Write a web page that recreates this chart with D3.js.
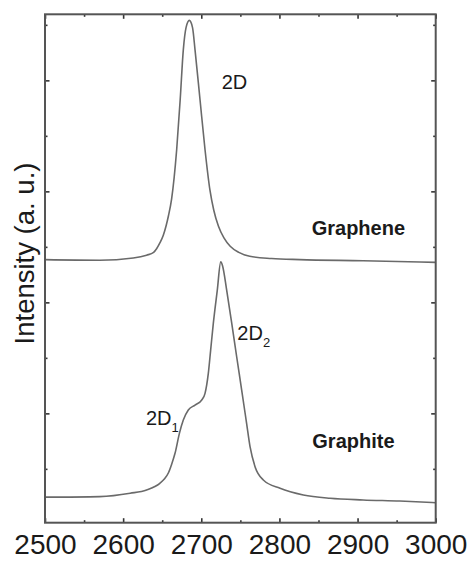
<!doctype html>
<html lang="en">
<head>
    <meta charset="UTF-8">
    <title>Raman 2D band</title>
    <style>
        body { margin: 0; background: #fff; }
        text { font-family: "Liberation Sans", Arial, sans-serif; fill: #1a1a1a; }
    </style>
</head>
<body>
    <svg id="raman" width="471" height="561"></svg>
    <script src="https://d3js.org/d3.v7.min.js"></script>
    <script>
        // graphene spectrum (Raman shift, intensity a.u.)
        let grapheneShift = [2500, 2570, 2613, 2630, 2639, 2643, 2647, 2651.4, 2655, 2658, 2662, 2668.5, 2673, 2677, 2680.5, 2684.7, 2688.8, 2692, 2698.4, 2704.8, 2711, 2716, 2722, 2729, 2737, 2748, 2762, 2790, 2826, 2907, 3000];
        let grapheneValue = [4.77, 4.76, 4.80, 4.85, 4.90, 4.97, 5.07, 5.21, 5.38, 5.56, 5.86, 6.75, 7.65, 8.55, 8.95, 9.08, 8.95, 8.55, 7.65, 6.75, 6.03, 5.66, 5.37, 5.16, 5.01, 4.90, 4.83, 4.79, 4.77, 4.75, 4.72];

        // graphite spectrum
        let graphiteShift = [2500, 2570, 2609, 2630, 2647, 2653, 2658, 2662, 2666.4, 2672, 2677, 2683.4, 2692, 2700.6, 2704.8, 2709, 2712, 2715.4, 2720.5, 2724.9, 2727.2, 2732.5, 2739, 2745.3, 2751.7, 2758, 2762.4, 2768.8, 2779.4, 2800.8, 2830.6, 2864.8, 2907, 2954, 3000];
        let graphiteValue = [0.49, 0.50, 0.56, 0.62, 0.74, 0.82, 0.93, 1.08, 1.28, 1.64, 1.88, 2.06, 2.15, 2.24, 2.36, 2.72, 3.14, 3.62, 4.22, 4.73, 4.66, 4.22, 3.62, 3.02, 2.42, 1.82, 1.40, 1.04, 0.80, 0.65, 0.53, 0.47, 0.44, 0.42, 0.39];

        // axis ticks
        let xMajorTicks = [2500, 2600, 2700, 2800, 2900, 3000];
        let xMinorTicks = [2550, 2650, 2750, 2850, 2950];
        let yMajorTicks = [2, 4, 6, 8];
        let yMinorTicks = [1, 3, 5, 7, 9];

        let margin = {top: 14.3, right: 35.3, bottom: 38.3, left: 45},
            width = 471 - margin.left - margin.right,
            height = 561 - margin.top - margin.bottom;

        let x = d3.scaleLinear().domain([2500, 3000]).range([0, width]);
        let y = d3.scaleLinear().domain([0.03, 9.19]).range([height, 0]);

        let svg = d3.select("#raman")
            .append("g")
            .attr("transform", `translate(${margin.left},${margin.top})`);

        let line = d3.line()
            .x(function(d) { return x(d[0]); })
            .y(function(d) { return y(d[1]); })
            .curve(d3.curveMonotoneX);

        let graphene = d3.zip(grapheneShift, grapheneValue);
        let graphite = d3.zip(graphiteShift, graphiteValue);

        [graphene, graphite].forEach(function(series) {
            svg.append("path")
                .datum(series)
                .attr("d", line)
                .style("fill", "none")
                .attr("stroke", "#6a6a6a")
                .attr("stroke-width", 1.6);
        });

        // ticks pointing inwards on all four sides
        const tickAxis = (axis, size, ticks) => axis.tickValues(ticks).tickSize(-size).tickFormat("");

        svg.append("g").attr("class", "ticks")
            .attr("transform", "translate(0," + height + ")")
            .call(tickAxis(d3.axisBottom(x), 4.5, xMajorTicks));
        svg.append("g").attr("class", "ticks")
            .attr("transform", "translate(0," + height + ")")
            .call(tickAxis(d3.axisBottom(x), 2.5, xMinorTicks));
        svg.append("g").attr("class", "ticks")
            .call(tickAxis(d3.axisTop(x), 4.5, xMajorTicks));
        svg.append("g").attr("class", "ticks")
            .call(tickAxis(d3.axisTop(x), 2.5, xMinorTicks));
        svg.append("g").attr("class", "ticks")
            .call(tickAxis(d3.axisLeft(y), 4.5, yMajorTicks));
        svg.append("g").attr("class", "ticks")
            .call(tickAxis(d3.axisLeft(y), 2.5, yMinorTicks));
        svg.append("g").attr("class", "ticks")
            .attr("transform", "translate(" + width + ",0)")
            .call(tickAxis(d3.axisRight(y), 4.5, yMajorTicks));
        svg.append("g").attr("class", "ticks")
            .attr("transform", "translate(" + width + ",0)")
            .call(tickAxis(d3.axisRight(y), 2.5, yMinorTicks));

        svg.selectAll(".ticks .domain").remove();
        svg.selectAll(".ticks line").attr("stroke", "#333").attr("stroke-width", 1.6);

        // tick labels
        let xLabels = svg.append("g")
            .attr("transform", "translate(0," + height + ")")
            .call(d3.axisBottom(x).tickValues(xMajorTicks).tickSize(0).tickPadding(11.4).tickFormat(d3.format("d")));
        xLabels.select(".domain").remove();
        xLabels.selectAll("text")
            .style("font-family", "'Liberation Sans', Arial, sans-serif")
            .attr("font-size", "28px")
            .attr("fill", "#1a1a1a");

        // frame
        svg.append("rect")
            .attr("width", width)
            .attr("height", height)
            .style("fill", "none")
            .attr("stroke", "#555")
            .attr("stroke-width", 2);

        svg.append("text")
            .attr("transform", `translate(${33.5 - margin.left},${253.5 - margin.top}) rotate(-90)`)
            .attr("text-anchor", "middle")
            .attr("font-size", "27.5px")
            .text("Intensity (a. u.)");

        // peak annotations
        const label = (px, py, main, sub, bold) => {
            let t = svg.append("text")
                .attr("x", px - margin.left)
                .attr("y", py - margin.top)
                .attr("font-size", "20px")
                .attr("font-weight", bold ? "bold" : "normal")
                .text(main);
            if (sub) {
                t.append("tspan")
                    .attr("dy", 7.5)
                    .attr("font-size", "13px")
                    .text(sub);
            }
        };

        label(221.7, 89.3, "2D");
        label(237.3, 340, "2D", "2");
        label(146, 425, "2D", "1");
        label(311.7, 235, "Graphene", null, true);
        label(312.3, 448.3, "Graphite", null, true);
    </script>
</body>
</html>
